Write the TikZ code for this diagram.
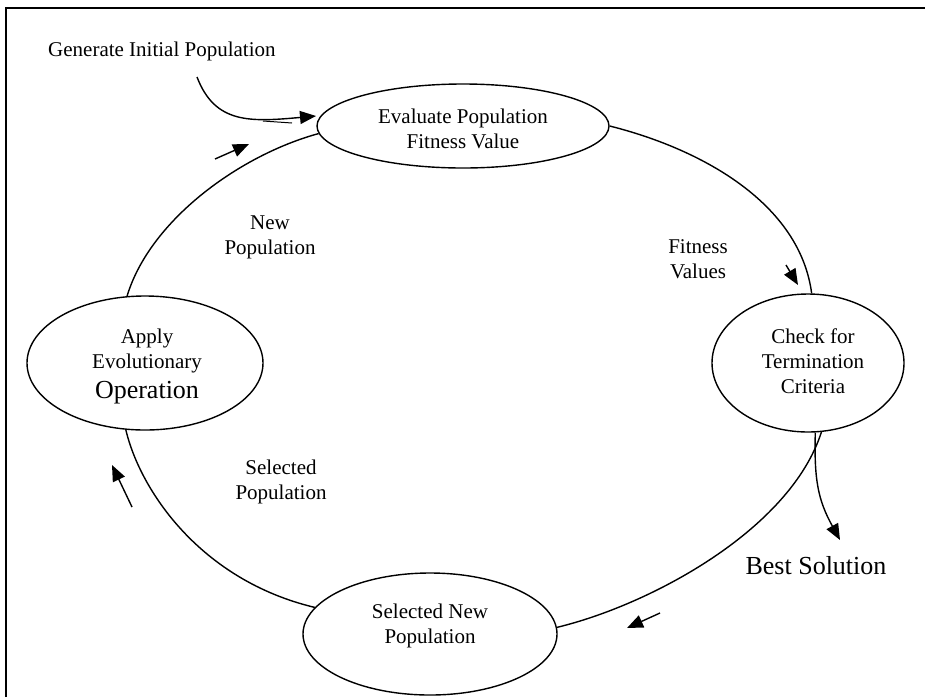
\documentclass[tikz,border=0pt]{standalone}
\usepackage{fontspec}
\setmainfont{Liberation Serif}
\usetikzlibrary{shapes.geometric,arrows.meta}
\begin{document}
\begin{tikzpicture}[x=1pt,y=-1pt,
  stage/.style={draw, ellipse, line width=1.4pt, inner sep=0pt},
  txt/.style={align=center, font=\fontsize{21}{25}\selectfont, inner sep=0pt},
  bigtxt/.style={font=\fontsize{26}{30}\selectfont, inner sep=0pt},
  link/.style={line width=1.4pt},
  tip/.style={line width=1.4pt, -{Triangle[length=16pt,width=13pt]}},
  frame/.style={line width=1.6pt}
]
\useasboundingbox (0,0) rectangle (925,697);
% frame
\coordinate (fbl) at (6,697);
\coordinate (ftl) at (6,8);
\coordinate (ftr) at (925,8);
\draw[frame] (fbl) -- (ftl) -- (ftr);

% stages
\node[stage, minimum width=292pt, minimum height=84pt] (eval) at (463,126) {};
\node[stage, minimum width=192pt, minimum height=138pt] (check) at (808,363) {};
\node[stage, minimum width=236pt, minimum height=134pt] (apply) at (145,363) {};
\node[stage, minimum width=254pt, minimum height=122pt] (sel) at (430,634) {};

% stage texts
\node[txt] (evalt) at (463,129) {Evaluate Population\\Fitness Value};
\node[txt] (checkt) at (813,361) {Check for\\Termination\\Criteria};
\node[txt] (applyt) at (147,366) {Apply\\Evolutionary\\[5pt]{\fontsize{26}{30}\selectfont Operation}};
\node[txt] (selt) at (430,626) {Selected New\\Population};

% labels
\node[txt, anchor=base west] (gen) at (48,56) {Generate Initial Population};
\node[txt] (newpop) at (270,237) {New\\Population};
\node[txt] (fitval) at (698,259) {Fitness\\Values};
\node[txt] (selpop) at (281,482) {Selected\\Population};
\node[bigtxt, anchor=base] (best) at (816,574) {Best Solution};

% cycle connectors
\draw[link] (apply.105) .. controls (150,220) and (240,155) .. (eval.183);
\draw[link] (eval.0) .. controls (705,150) and (800,205) .. (check.87);
\draw[link] (check.281) .. controls (790,530) and (650,605) .. (sel.3);
\draw[link] (sel.167) .. controls (200,580) and (140,490) .. (apply.254);

% best solution
\coordinate (bestend) at (840,540);
\draw[tip] (check.276) .. controls (814,480) and (818,500) .. (bestend);

% generate arrow
\coordinate (gstart) at (197,77);
\coordinate (gend) at (316,116);
\draw[tip] (gstart) .. controls (215,124) and (250,122) .. (gend);
\coordinate (g1) at (263,121);
\coordinate (g2) at (292,123);
\draw[line width=1pt] (g1) -- (g2);

% direction arrows
\coordinate (a1s) at (215,159); \coordinate (a1e) at (249,144);
\draw[tip] (a1s) -- (a1e);
\coordinate (a2s) at (786,265); \coordinate (a2e) at (798,285);
\draw[tip] (a2s) -- (a2e);
\coordinate (a3s) at (660,613); \coordinate (a3e) at (627,628);
\draw[tip] (a3s) -- (a3e);
\coordinate (a4s) at (132,507); \coordinate (a4e) at (112,465);
\draw[tip] (a4s) -- (a4e);
\end{tikzpicture}
\end{document}
